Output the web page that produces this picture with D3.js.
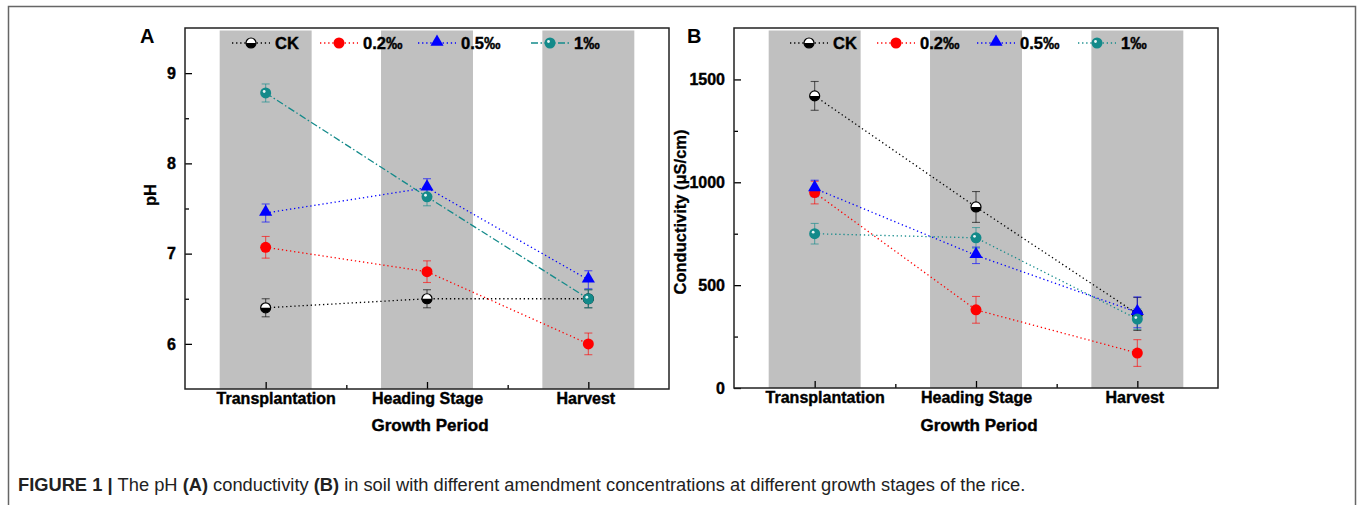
<!DOCTYPE html>
<html>
<head>
<meta charset="utf-8">
<script src="https://cdn.jsdelivr.net/npm/d3@7"></script>
<style>
  body { margin: 0; background: #fff; }
  text { font-family: "Liberation Sans", Arial, sans-serif; }
</style>
</head>
<body>
<div id="chart"></div>
<script>
// categories and series
var stages = ["Transplantation", "Heading Stage", "Harvest"];
var seriesNames = ["CK", "0.2\u2030", "0.5\u2030", "1\u2030"];

// panel A: pH
var phCK = [6.40, 6.50, 6.50];
var ph02 = [7.07, 6.80, 6.00];
var ph05 = [7.45, 7.73, 6.71];
var ph1 = [8.78, 7.63, 6.50];
var phErrCK = [0.10, 0.10, 0.10];
var phErr02 = [0.12, 0.12, 0.12];
var phErr05 = [0.10, 0.10, 0.10];
var phErr1 = [0.10, 0.10, 0.10];
var phTicks = [6, 7, 8, 9];
var phMinor = [6.5, 7.5, 8.5];

// panel B: conductivity
var ecCK = [1420, 880, 360];
var ec02 = [950, 380, 170];
var ec05 = [970, 645, 368];
var ec1 = [750, 730, 335];
var ecErrCK = [70, 75, 80];
var ecErr02 = [55, 65, 65];
var ecErr05 = [40, 40, 75];
var ecErr1 = [50, 50, 50];
var ecTicks = [0, 500, 1000, 1500];
var ecMinor = [250, 750, 1250];

var colors = ["#000000", "#ff0000", "#0000ff", "#138a8a"];
var dots = "1.3,2.8";
// small horizontal nudge of the stage labels, as in the original figure
var labelShift = [10, 0, -3];

var svg = d3.select("#chart").append("svg")
    .attr("width", 1358)
    .attr("height", 505);

// outer frame (open at the bottom)
svg.append("path")
    .attr("d", "M8.5,505 V6.5 H1355.5 V505")
    .attr("fill", "none")
    .attr("stroke", "#666")
    .attr("stroke-width", 1.5);

function drawMarker(g, k, cx, cy) {
  if (k === 0) {
    // half filled circle
    g.append("circle").attr("cx", cx).attr("cy", cy).attr("r", 5)
        .attr("fill", "#fff").attr("stroke", "#000").attr("stroke-width", 1.2);
    g.append("path")
        .attr("d", d3.arc()({innerRadius: 0, outerRadius: 5, startAngle: Math.PI / 2, endAngle: Math.PI * 1.5}))
        .attr("transform", "translate(" + cx + "," + cy + ")")
        .attr("fill", "#000");
  } else if (k === 1) {
    g.append("circle").attr("cx", cx).attr("cy", cy).attr("r", 5.5).attr("fill", colors[1]);
  } else if (k === 2) {
    g.append("path")
        .attr("d", d3.symbol().type(d3.symbolTriangle).size(75)())
        .attr("transform", "translate(" + cx + "," + (cy - 1) + ")")
        .attr("fill", colors[2]);
  } else {
    g.append("circle").attr("cx", cx).attr("cy", cy).attr("r", 5.5).attr("fill", colors[3]);
    g.append("circle").attr("cx", cx - 1.5).attr("cy", cy - 1.5).attr("r", 1.4).attr("fill", "#e8f4f4");
  }
}

function drawPanel(opt) {
  var x = d3.scaleLinear().domain([0.5, 3.5]).range([opt.left, opt.right]);
  var y = d3.scaleLinear().domain(opt.domain).range([opt.bottom, opt.top]);
  var g = svg.append("g");

  // grey bands behind each stage
  g.selectAll(".band").data(stages).enter().append("rect")
      .attr("x", function(d, i) { return x(i + 1 - 0.285); })
      .attr("width", function(d, i) { return x(i + 1 + 0.285) - x(i + 1 - 0.285); })
      .attr("y", opt.top + 2.5)
      .attr("height", opt.bottom - opt.top - 2.5)
      .attr("fill", "#c0c0c0");

  // lines
  var line = d3.line()
      .x(function(d, i) { return x(i + 1); })
      .y(function(d) { return y(d); });
  opt.series.forEach(function(s, k) {
    g.append("path")
        .datum(s)
        .attr("fill", "none")
        .attr("stroke", colors[k])
        .attr("stroke-width", 1.3)
        .attr("stroke-dasharray", opt.dash[k])
        .attr("d", line);
  });

  // error bars
  opt.series.forEach(function(s, k) {
    s.forEach(function(v, i) {
      var e = opt.errors[k][i], cx = x(i + 1);
      var eg = g.append("g").attr("stroke", colors[k]).attr("stroke-opacity", 0.6).attr("stroke-width", 1.1);
      eg.append("line").attr("x1", cx).attr("x2", cx).attr("y1", y(v - e)).attr("y2", y(v + e));
      eg.append("line").attr("x1", cx - 4).attr("x2", cx + 4).attr("y1", y(v - e)).attr("y2", y(v - e));
      eg.append("line").attr("x1", cx - 4).attr("x2", cx + 4).attr("y1", y(v + e)).attr("y2", y(v + e));
    });
  });

  // markers
  opt.series.forEach(function(s, k) {
    s.forEach(function(v, i) { drawMarker(g, k, x(i + 1), y(v)); });
  });

  // axes
  g.append("g")
      .attr("transform", "translate(" + opt.left + ",0)")
      .call(d3.axisLeft(y).tickValues(opt.ticks).tickSize(-7).tickPadding(9).tickFormat(d3.format("d")));
  g.append("g")
      .attr("transform", "translate(" + opt.left + ",0)")
      .call(d3.axisLeft(y).tickValues(opt.minor).tickSize(-4).tickFormat(""));
  var xAxis = g.append("g")
      .attr("transform", "translate(0," + opt.bottom + ")")
      .call(d3.axisBottom(x).tickValues([1, 2, 3]).tickSize(-7).tickPadding(3)
          .tickFormat(function(d) { return stages[d - 1]; }));
  g.append("g")
      .attr("transform", "translate(0," + opt.bottom + ")")
      .call(d3.axisBottom(x).tickValues([1.5, 2.5]).tickSize(-4).tickFormat(""));
  g.selectAll(".domain").remove();
  g.selectAll(".tick line").attr("stroke", "#000").attr("stroke-width", 1.3);
  g.selectAll(".tick text")
      .attr("font-family", "'Liberation Sans', Arial, sans-serif")
      .attr("font-size", 16).attr("font-weight", "bold").attr("fill", "#000")
      .attr("stroke", "#000").attr("stroke-width", 0.4);
  xAxis.selectAll(".tick text")
      .attr("dy", "0.75em")
      .attr("dx", function(d) { return labelShift[d - 1]; });

  // frame
  g.append("rect")
      .attr("x", opt.left).attr("y", opt.top)
      .attr("width", opt.right - opt.left).attr("height", opt.bottom - opt.top)
      .attr("fill", "none").attr("stroke", "#222").attr("stroke-width", 1.5);

  // titles
  g.append("text")
      .attr("x", (opt.left + opt.right) / 2 + 3).attr("y", 431)
      .attr("text-anchor", "middle")
      .attr("font-size", 17).attr("font-weight", "bold")
      .attr("stroke", "#000").attr("stroke-width", 0.4)
      .text("Growth Period");
  g.append("text")
      .attr("transform", "translate(" + opt.ylabelX + "," + opt.ylabelY + ") rotate(-90)")
      .attr("text-anchor", "middle")
      .attr("font-size", 16.5).attr("font-weight", "bold")
      .attr("stroke", "#000").attr("stroke-width", 0.3)
      .text(opt.ylabel);
  g.append("text")
      .attr("x", opt.letterX).attr("y", 43)
      .attr("font-size", 20).attr("font-weight", "bold")
      .text(opt.letter);

  // legend
  opt.legendX.forEach(function(lx, k) {
    var ly = 43;
    g.append("line")
        .attr("x1", lx).attr("x2", lx + 38).attr("y1", ly).attr("y2", ly)
        .attr("stroke", colors[k]).attr("stroke-width", 1.3)
        .attr("stroke-dasharray", opt.dash[k]);
    drawMarker(g, k, lx + 19, ly);
    g.append("text")
        .attr("x", lx + 43).attr("y", ly + 6)
        .attr("font-size", 16.5).attr("font-weight", "bold")
        .attr("stroke", "#000").attr("stroke-width", 0.4)
        .text(seriesNames[k]);
  });
}

drawPanel({
  left: 185, right: 669, top: 28, bottom: 389,
  domain: [5.5, 9.5], ticks: phTicks, minor: phMinor,
  series: [phCK, ph02, ph05, ph1],
  errors: [phErrCK, phErr02, phErr05, phErr1],
  dash: [dots, dots, dots, "7,2.5,1.5,2.5"],
  ylabel: "pH", ylabelX: 156, ylabelY: 195,
  letter: "A", letterX: 140,
  legendX: [232, 320, 418, 531]
});

drawPanel({
  left: 734, right: 1218, top: 28, bottom: 388,
  domain: [0, 1750], ticks: ecTicks, minor: ecMinor,
  series: [ecCK, ec02, ec05, ec1],
  errors: [ecErrCK, ecErr02, ecErr05, ecErr1],
  dash: [dots, dots, dots, dots],
  ylabel: "Conductivity (\u03bcS/cm)", ylabelX: 686, ylabelY: 212,
  letter: "B", letterX: 687,
  legendX: [790, 877, 977, 1078]
});

// caption
var cap = svg.append("text")
    .attr("x", 18).attr("y", 491)
    .attr("font-family", "'Liberation Sans', Arial, sans-serif")
    .attr("font-size", 18.3)
    .attr("fill", "#222");
cap.append("tspan").attr("font-weight", "bold").text("FIGURE 1 | ");
cap.append("tspan").text("The pH ");
cap.append("tspan").attr("font-weight", "bold").text("(A)");
cap.append("tspan").text(" conductivity ");
cap.append("tspan").attr("font-weight", "bold").text("(B)");
cap.append("tspan").text(" in soil with different amendment concentrations at different growth stages of the rice.");
</script>
</body>
</html>
